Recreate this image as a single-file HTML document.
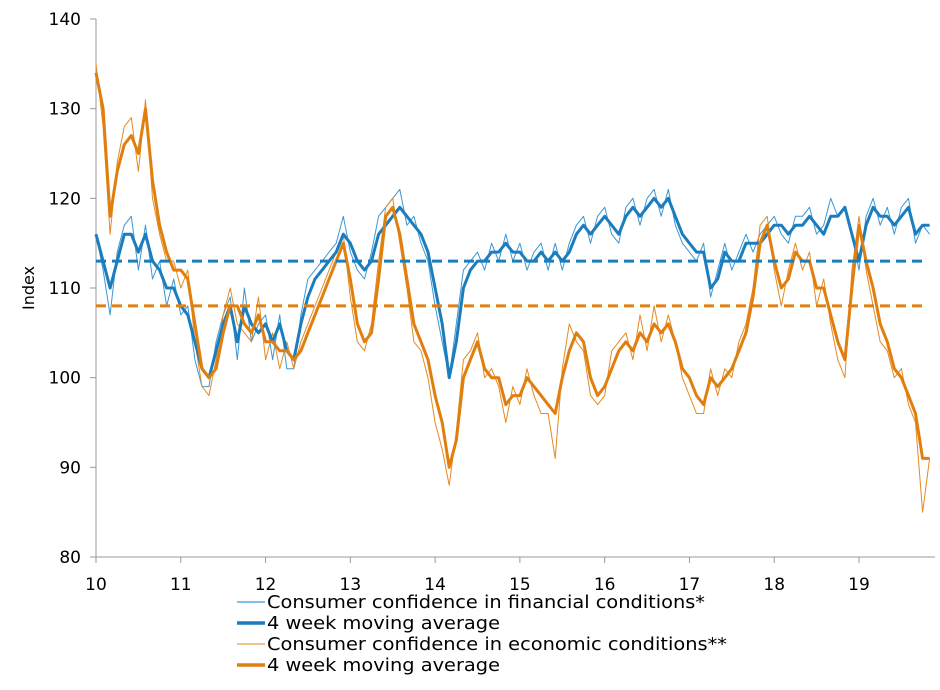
<!DOCTYPE html>
<html><head><meta charset="utf-8">
<style>
body{margin:0;background:#fff;width:940px;height:686px;overflow:hidden;font-family:"DejaVu Sans","Liberation Sans",sans-serif;}
svg text{font-family:"DejaVu Sans","Liberation Sans",sans-serif;}
</style></head>
<body>
<svg id="chart" width="940" height="686" xmlns="http://www.w3.org/2000/svg"></svg>
<script>
const yTicks=[80,90,100,110,120,130,140];
const xTicks=[10,11,12,13,14,15,16,17,18,19];
const finAvg=113;
const ecoAvg=108;
const finMA=[116,113,110,113,116,116,114,116,113,112,110,110,108,107,104,101,100,103,106,108,104,108,106,105,106,104,106,103,102,106,109,111,112,113,114,116,115,113,112,113,116,117,118,119,118,117,116,114,110,106,100,104,110,112,113,113,114,114,115,114,114,113,113,114,113,114,113,114,116,117,116,117,118,117,116,118,119,118,119,120,119,120,118,116,115,114,114,110,111,114,113,113,115,115,115,116,117,117,116,117,117,118,117,116,118,118,119,116,113,117,119,118,118,117,118,119,116,117,117];
const finRaw=[116,112,107,114,117,118,112,117,111,113,108,111,107,108,102,99,99,104,107,109,102,110,104,106,107,102,107,101,101,107,111,112,113,114,115,118,114,112,111,114,118,119,120,121,117,118,115,113,108,104,100,106,112,113,114,112,115,113,116,113,115,112,114,115,112,115,112,115,117,118,115,118,119,116,115,119,120,117,120,121,118,121,117,115,114,113,115,109,112,115,112,114,116,114,116,117,118,116,115,118,118,119,116,117,120,118,119,116,112,118,120,117,119,116,119,120,115,117,116];
const ecoMA=[134,130,118,123,126,127,125,130,122,117,114,112,112,111,106,101,100,101,105,108,108,106,105,107,104,104,103,103,102,103,105,107,109,111,113,115,111,106,104,105,111,118,119,116,111,106,104,102,98,95,90,93,100,102,104,101,100,100,97,98,98,100,99,98,97,96,100,103,105,104,100,98,99,101,103,104,103,105,104,106,105,106,104,101,100,98,97,100,99,100,101,103,105,109,115,117,113,110,111,114,113,113,110,110,107,104,102,110,117,113,110,106,104,101,100,98,96,91,91];
const ecoRaw=[135,128,116,124,128,129,123,131,120,116,113,113,110,112,104,99,98,102,107,110,106,105,104,109,102,105,101,104,101,104,106,108,110,112,114,116,109,104,103,106,113,119,120,115,110,104,103,100,95,92,88,94,102,103,105,100,101,99,95,99,97,101,98,96,96,91,101,106,104,103,98,97,98,103,104,105,102,107,103,108,104,107,104,100,98,96,96,101,98,101,100,104,106,110,117,118,112,108,112,115,112,114,108,111,106,102,100,112,118,112,108,104,103,100,101,97,95,85,91];

const NS="http://www.w3.org/2000/svg";
const svg=document.getElementById('chart');
const X0=96,X1=859,Y0=557,Y1=19;
const xs=v=>X0+(v-10)*(X1-X0)/9;
const ys=v=>Y0-(v-80)*(Y0-Y1)/60;
function mk(t,a){const e=document.createElementNS(NS,t);for(const k in a)e.setAttribute(k,a[k]);svg.appendChild(e);return e;}

let ax=mk('line',{x1:X0,y1:Y1,x2:X0,y2:Y0,stroke:'#999','stroke-width':1});


ax=mk('line',{x1:X0,y1:Y0,x2:935,y2:Y0,stroke:'#999','stroke-width':1});


yTicks.forEach(v=>{
  const t=mk('line',{x1:X0-6,x2:X0,y1:ys(v),y2:ys(v),stroke:'#999'});
  
  
  const l=mk('text',{x:X0-15,y:ys(v)+6,'text-anchor':'end','font-size':17,fill:'#000'});
  l.textContent=v;
  
  
});
xTicks.forEach(v=>{
  const t=mk('line',{x1:xs(v),x2:xs(v),y1:Y0,y2:Y0+6,stroke:'#999'});
  
  
  const l=mk('text',{x:xs(v),y:Y0+33,'text-anchor':'middle','font-size':17,fill:'#000'});
  l.textContent=v;
  
  
});
const yt=mk('text',{x:0,y:0,transform:'translate(34,288) rotate(-90)','text-anchor':'middle','font-size':16,fill:'#000'});
yt.textContent='Index';



function line(arr,color,w,name){
  const d=arr.map((v,i)=>(i?'L':'M')+xs(10+i/12).toFixed(1)+','+ys(v).toFixed(1)).join('');
  const p=mk('path',{d:d,fill:'none',stroke:color,'stroke-width':w,'stroke-linejoin':'round'});
  
  
}
line(finRaw,'#3a97d4',1,'financial-conditions-line');
line(ecoRaw,'#e58a1f',1,'economic-conditions-line');
line(finMA,'#1b7dbd',3,'financial-moving-average-line');
line(ecoMA,'#e07f10',3,'economic-moving-average-line');

let dl=mk('line',{x1:X0,x2:xs(19.8),y1:ys(finAvg),y2:ys(finAvg),stroke:'#1b7dbd','stroke-width':3,'stroke-dasharray':'10,6'});


dl=mk('line',{x1:X0,x2:xs(19.8),y1:ys(ecoAvg),y2:ys(ecoAvg),stroke:'#e07f10','stroke-width':3,'stroke-dasharray':'10,6'});



const leg=[['Consumer confidence in financial conditions*','#5aaee0',1.5,438],['4 week moving average','#1b7dbd',3.5,233],['Consumer confidence in economic conditions**','#e58a1f',1,460],['4 week moving average','#e07f10',3.5,233]];
leg.forEach((e,i)=>{
  const y=602+i*21;
  const l=mk('line',{x1:237,x2:265,y1:y,y2:y,stroke:e[1],'stroke-width':e[2]});
  
  
  const t=mk('text',{x:267,y:y+6,'font-size':18,fill:'#000',textLength:e[3],lengthAdjust:'spacingAndGlyphs'});
  t.textContent=e[0];
  
  
});
</script>
</body></html>
